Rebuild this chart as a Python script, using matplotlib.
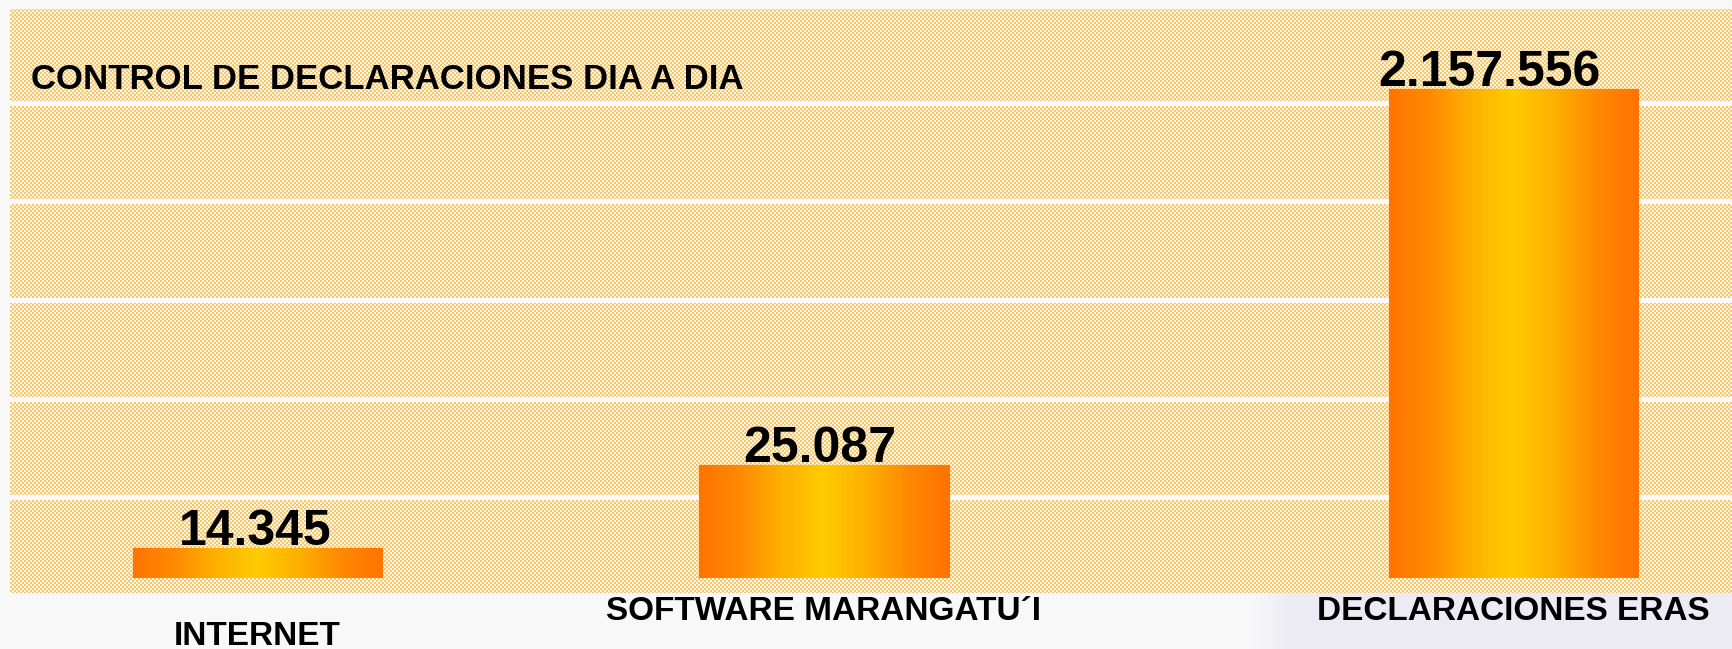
import numpy as np
import matplotlib
matplotlib.use("Agg")
import matplotlib.pyplot as plt
from matplotlib.colors import LinearSegmentedColormap
import matplotlib.transforms as mtransforms

# datos del grafico
categorias = ["INTERNET", "SOFTWARE MARANGATU´I", "DECLARACIONES ERAS"]
valores = [14345, 25087, 2157556]
titulo = "CONTROL DE DECLARACIONES DIA A DIA"

# posicion de las barras (no son equidistantes en el original)
xpos = [0.0, 1.0, 2.217]
ancho = 0.44
# altura de la etiqueta de categoria (fraccion de ejes, debajo de la base)
y_etiqueta = [-0.118, -0.0738, -0.0738]
# corrimiento horizontal de la etiqueta de valor (pixeles)
dx_valor = [-2, -4, -24]

# eje quebrado: tramos de valor -> unidades de dibujo
tramo_val = [0, 14345, 25087, 2157556, 2600000]
tramo_pos = [0, 30, 113, 489, 569]


def forward(v):
    return np.interp(v, tramo_val, tramo_pos)


def inverse(u):
    return np.interp(u, tramo_pos, tramo_val)


W, H = 1733, 649
fig = plt.figure(figsize=(W / 100, H / 100), dpi=100)

# fondo: cuadriculado naranja con lineas blancas
yy, xx = np.mgrid[0:H, 0:W]
bg = np.zeros((H, W, 3), dtype=float)
bg[:, :] = (248, 248, 249)
# zona lila abajo a la derecha, con borde suave
t = np.clip((xx - 1250) / 40.0, 0, 1)[..., None]
lila = np.array([236, 235, 244], dtype=float)
abajo = (yy >= 593)[..., None]
bg = np.where(abajo, bg * (1 - t) + lila * t, bg)
bg = bg.astype(np.uint8)
chk = ((xx // 2) + (yy // 2)) % 2 == 0
zona = (yy >= 9) & (yy < 593) & (xx >= 10)
bg[zona & chk] = (255, 199, 90)
bg[zona & ~chk] = (245, 244, 244)
for g in [101, 199, 298, 397, 495]:
    bg[g:g + 5, 10:] = (250, 250, 250)
fig.figimage(bg, xo=0, yo=0, origin="upper", zorder=-10)

ax = fig.add_axes([10 / W, (H - 578) / H, (W - 10) / W, (578 - 9) / H])
ax.set_zorder(5)
ax.patch.set_alpha(0)
ax.set_yscale("function", functions=(forward, inverse))
ax.set_ylim(0, 2600000)
ax.set_xlim(-0.437, 2.605)
for s in ax.spines.values():
    s.set_visible(False)
ax.set_xticks([])
ax.set_yticks([])
ax.minorticks_off()

cmap = LinearSegmentedColormap.from_list(
    "grad", ["#ff7300", "#ff8a00", "#fdb000", "#ffcb00", "#fdb000", "#ff8a00", "#ff7300"])
n = 120
for x, v, dx in zip(xpos, valores, dx_valor):
    for i in range(n):
        c = cmap((i + 0.5) / n)
        ax.bar(x - ancho / 2 + i * ancho / n, v, width=ancho / n, align="edge",
               color=c, edgecolor=c, linewidth=0.8)
    # etiqueta de valor con puntos de miles
    txt = f"{v:,}".replace(",", ".")
    off = mtransforms.offset_copy(ax.transData, fig=fig, x=dx, y=3, units="dots")
    ax.text(x, v, txt, transform=off, ha="center", va="baseline",
            fontsize=36, fontweight="bold", family="Liberation Sans", color="black")

tr = mtransforms.blended_transform_factory(ax.transData, ax.transAxes)
for x, lab, yl in zip(xpos, categorias, y_etiqueta):
    ax.text(x, yl, lab, transform=tr, ha="center", va="baseline", clip_on=False,
            fontsize=24, fontweight="bold", family="Liberation Sans", color="black")

fig.text(31 / W, 1 - 89 / H, titulo, ha="left", va="baseline", zorder=10,
         fontsize=25, fontweight="bold", family="Liberation Sans", color="black")

fig.savefig("out.png", dpi=100)
